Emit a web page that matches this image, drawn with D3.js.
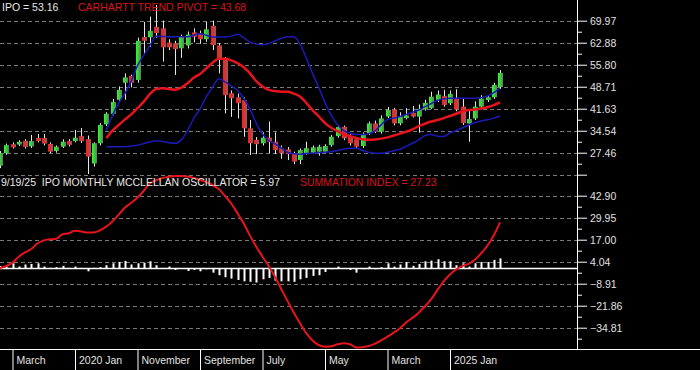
<!DOCTYPE html>
<html>
<head>
<meta charset="utf-8">
<script src="https://cdn.jsdelivr.net/npm/d3@7"></script>
<style>
html, body { margin: 0; padding: 0; background: #000; }
svg { display: block; font-family: "Liberation Sans", Arial, sans-serif; }
</style>
</head>
<body>
<svg id="chart" width="700" height="370"></svg>
<script>
// month index 0 = Jan 2019, last = Sep 2025
const monthTickIdx = [2, 12, 22, 32, 42, 52, 62, 72];
const monthLabels = ["March", "2020 Jan", "November", "September", "July", "May", "March", "2025 Jan"];
const priceTicks = [69.97, 62.88, 55.80, 48.71, 41.63, 34.54, 27.46];
const oscTicks = [42.90, 29.95, 17.00, 4.04, -8.91, -21.86, -34.81];

const open = [23.3, 27.3, 30.2, 30.1, 31.3, 29.5, 32.2, 32.2, 30.3, 28.0,
  29.4, 31.2, 31.2, 32.8, 31.8, 24.0, 30.5, 36.6, 40.0, 44.5,
  50.0, 52.2, 50.9, 64.7, 64.6, 68.0, 67.5, 62.9, 62.7, 61.1,
  62.0, 66.2, 65.8, 64.0, 68.3, 62.0, 57.9, 46.6, 45.3, 44.4,
  35.3, 31.6, 30.5, 32.3, 31.0, 28.9, 28.5, 27.3, 25.1, 27.3,
  27.5, 27.8, 27.8, 29.9, 32.8, 35.8, 32.8, 31.8, 29.6, 33.7,
  36.9, 34.2, 39.1, 41.4, 36.9, 38.6, 40.3, 39.1, 41.4, 41.8,
  44.5, 45.7, 43.4, 45.0, 42.3, 36.9, 38.5, 42.3, 44.4, 45.3, 48.6];
const high = [28.0, 30.4, 30.8, 31.5, 31.8, 33.2, 33.5, 33.5, 30.8, 29.8,
  31.8, 31.8, 34.8, 35.4, 33.0, 30.8, 37.0, 40.5, 44.8, 48.8,
  53.0, 52.6, 64.5, 69.6, 71.3, 75.0, 70.0, 64.0, 63.5, 65.5,
  66.5, 67.5, 66.8, 69.6, 70.0, 62.8, 58.3, 47.5, 46.5, 45.3,
  38.0, 32.5, 34.0, 37.5, 34.0, 29.8, 29.3, 27.8, 28.8, 31.0,
  29.8, 30.0, 30.2, 33.2, 36.3, 36.2, 33.4, 32.5, 34.0, 37.5,
  37.8, 39.5, 42.2, 41.9, 40.5, 41.8, 42.5, 43.0, 44.5, 47.1,
  47.5, 47.7, 47.5, 47.9, 44.8, 41.0, 44.0, 46.0, 45.9, 50.0, 54.1];
const low = [22.5, 26.8, 28.8, 29.6, 28.8, 29.0, 30.8, 29.8, 27.3, 27.5,
  29.0, 29.5, 30.8, 30.6, 20.6, 23.0, 29.8, 36.0, 39.5, 43.8,
  44.5, 48.5, 50.0, 59.5, 61.5, 64.5, 56.8, 60.5, 52.5, 58.0,
  61.0, 63.0, 62.5, 63.2, 60.5, 53.0, 40.1, 39.0, 38.5, 32.6,
  26.7, 27.0, 29.8, 27.3, 27.0, 25.5, 25.1, 23.8, 23.8, 26.8,
  27.0, 26.5, 27.3, 29.4, 32.3, 31.5, 29.8, 28.8, 29.0, 33.2,
  33.8, 33.6, 38.6, 36.3, 36.3, 38.2, 38.8, 33.9, 41.0, 41.5,
  43.8, 42.3, 42.8, 40.8, 36.4, 31.0, 38.0, 41.8, 43.8, 44.8, 48.0];
const close = [27.3, 29.9, 29.2, 31.0, 29.3, 31.2, 31.2, 30.4, 27.8, 29.4,
  31.0, 30.0, 32.3, 31.2, 26.2, 30.5, 36.4, 40.0, 43.8, 47.7,
  51.7, 50.0, 63.5, 63.5, 66.7, 66.0, 61.4, 61.4, 60.8, 64.8,
  65.5, 64.8, 64.0, 67.2, 62.1, 57.9, 46.0, 45.0, 43.4, 35.3,
  30.5, 30.2, 32.3, 31.0, 28.3, 27.3, 27.0, 24.6, 28.3, 28.9,
  29.2, 29.4, 29.6, 32.6, 35.7, 32.1, 30.5, 29.4, 33.2, 36.9,
  34.2, 38.5, 41.2, 36.9, 39.1, 39.5, 39.1, 41.6, 43.5, 45.5,
  46.2, 42.8, 46.4, 41.4, 37.0, 38.3, 42.3, 44.9, 45.3, 49.3, 53.16];

// bands and pivot start at month index 17
const bandStart = 17;
const pivot = [32.1, 34.6, 36.4, 38.2, 39.8, 41.8, 43.9, 46.4, 48.0, 48.2,
  48.0, 47.7, 48.4, 49.8, 51.6, 52.8, 54.6, 56.4, 57.7, 57.7,
  57.2, 56.3, 55.0, 53.0, 50.5, 48.8, 47.7, 47.3, 47.1, 47.1,
  46.5, 45.6, 43.5, 41.2, 39.2, 37.0, 35.5, 34.4, 33.4, 32.8,
  32.2, 31.8, 31.6, 31.7, 32.0, 32.4, 33.0, 33.6, 34.2, 35.0,
  36.0, 36.8, 37.5, 38.0, 38.6, 39.3, 40.0, 40.8, 41.2, 41.4,
  41.7, 42.1, 42.8, 43.68];
const upperBand = [34.5, 39.5, 43.5, 46.6, 50.6, 55.5, 58.8, 62.0, 65.0, 64.9,
  64.8, 64.8, 64.8, 64.8, 65.3, 65.8, 65.3, 64.7, 64.7, 64.7,
  65.0, 65.6, 64.5, 63.0, 62.5, 62.2, 62.6, 63.5, 64.3, 64.8,
  64.8, 62.5, 58.0, 53.0, 48.5, 43.5, 39.5, 36.5, 34.6, 33.8,
  33.3, 33.3, 33.6, 34.5, 36.5, 38.2, 38.6, 39.1, 39.8, 40.5,
  41.2, 42.3, 43.3, 44.3, 44.8, 45.0, 45.0, 45.0, 45.0, 45.0,
  45.2, 45.7, 46.8, 48.2];
const lowerBand = [29.4, 29.4, 29.4, 29.4, 29.6, 29.9, 30.4, 30.9, 31.3, 31.1,
  30.7, 30.5, 31.6, 34.5, 38.5, 41.5, 45.5, 48.5, 51.3, 50.3,
  49.0, 47.5, 45.0, 41.5, 37.0, 33.5, 31.4, 30.3, 29.0, 27.6,
  27.1, 27.0, 27.2, 27.3, 27.5, 27.6, 27.8, 28.2, 28.6, 28.9,
  28.9, 28.2, 27.6, 27.3, 27.3, 27.6, 28.1, 28.6, 29.5, 30.5,
  31.6, 33.0, 33.3, 32.8, 32.7, 33.8, 34.6, 35.5, 36.4, 37.2,
  37.7, 38.1, 38.6, 39.3];

const oscillator = [1.5, 1.6, 3.1, 1.2, 2.4, 2.7, 3.1, 1.2, 0.4, 0.8,
  1.6, 0.4, 1.2, 0.4, -1.6, 0.4, 0.8, 2.0, 3.1, 3.9,
  4.5, 2.4, 3.1, 3.5, 4.3, 2.0, 0.4, 1.2, -0.8, 0.3,
  -1.4, -0.8, -1.6, -0.4, -2.4, -3.9, -5.1, -5.9, -6.7, -7.5,
  -7.8, -8.2, -6.3, -5.5, -7.1, -7.5, -7.5, -7.8, -6.3, -5.5,
  -4.3, -3.9, -2.0, -0.4, 1.2, 0.3, -0.8, -2.4, -0.4, 1.2,
  -0.4, 0.8, 3.1, 1.2, 2.4, 3.9, 1.6, 2.7, 4.3, 4.7,
  5.5, 4.3, 4.3, 2.0, 3.1, 1.2, 3.1, 3.9, 3.9, 5.1, 5.97];
const summation = [0.3, 1.5, 3.5, 7.0, 9.5, 11.5, 14.8, 16.6, 17.2, 17.6,
  20.2, 20.8, 22.2, 21.8, 21.2, 21.3, 22.5, 24.7, 27.8, 31.8,
  35.9, 38.7, 41.8, 45.8, 50.2, 52.0, 53.3, 54.1, 54.5, 54.5,
  54.2, 53.4, 52.3, 50.8, 49.2, 46.8, 42.8, 38.3, 32.5, 26.5,
  19.4, 12.8, 7.0, 1.5, -5.0, -12.0, -19.0, -25.9, -32.2, -38.0,
  -42.3, -45.0, -46.0, -45.7, -44.6, -44.0, -44.5, -46.4, -46.3, -45.6,
  -44.2, -42.3, -40.1, -37.7, -35.1, -31.6, -29.0, -26.0, -22.2, -18.0,
  -12.5, -7.5, -3.5, -0.5, 1.6, 2.8, 5.4, 9.0, 13.6, 19.5, 27.23];

const plotRight = 577;
const svg = d3.select("#chart");

const x = d3.scaleLinear().domain([0, 92.32]).range([0, plotRight]);
const yP = d3.scaleLinear().domain([20.38, 69.97]).range([174.7, 20.7]);
const yO = d3.scaleLinear().domain([-47.76, 42.90]).range([349.7, 195.7]);

svg.append("rect").attr("width", 700).attr("height", 370).attr("fill", "#000");

const defs = svg.append("defs");
defs.append("clipPath").attr("id", "plotClip")
  .append("rect").attr("x", 0).attr("y", 0).attr("width", plotRight).attr("height", 349);
const gUp = defs.append("linearGradient").attr("id", "gUp");
gUp.append("stop").attr("offset", "0%").attr("stop-color", "#2cff2c");
gUp.append("stop").attr("offset", "100%").attr("stop-color", "#5a835a");
const gDn = defs.append("linearGradient").attr("id", "gDn");
gDn.append("stop").attr("offset", "0%").attr("stop-color", "#ff1a1a");
gDn.append("stop").attr("offset", "100%").attr("stop-color", "#9a5a5a");

// dashed gridlines
const gridVals = priceTicks.map(yP).concat([yP(20.38)]).concat(oscTicks.map(yO));
svg.append("g").selectAll("line").data(gridVals).join("line")
  .attr("x1", 0).attr("x2", plotRight)
  .attr("y1", d => Math.round(d) + 0.5).attr("y2", d => Math.round(d) + 0.5)
  .attr("stroke", "#7a7a7a").attr("stroke-width", 1).attr("stroke-dasharray", "4,3");

const plot = svg.append("g").attr("clip-path", "url(#plotClip)");

// candles
const idx = d3.range(open.length);
plot.append("g").selectAll("line").data(idx).join("line")
  .attr("x1", i => Math.round(x(i)) + 0.5).attr("x2", i => Math.round(x(i)) + 0.5)
  .attr("y1", i => yP(high[i])).attr("y2", i => yP(low[i]))
  .attr("stroke", "#e6e6e6").attr("stroke-width", 1);
plot.append("g").selectAll("rect").data(idx).join("rect")
  .attr("x", i => Math.round(x(i)) - 2)
  .attr("width", 5)
  .attr("y", i => yP(Math.max(open[i], close[i])))
  .attr("height", i => Math.max(1.5, Math.abs(yP(open[i]) - yP(close[i]))))
  .attr("fill", i => close[i] >= open[i] ? "url(#gUp)" : "url(#gDn)");

// bands and pivot
const bandLine = d3.line()
  .x((d, k) => x(k + bandStart)).y(d => yP(d))
  .curve(d3.curveMonotoneX);
plot.append("path").datum(upperBand).attr("d", bandLine)
  .attr("fill", "none").attr("stroke", "#1a1ab8").attr("stroke-width", 1.5);
plot.append("path").datum(lowerBand).attr("d", bandLine)
  .attr("fill", "none").attr("stroke", "#1a1ab8").attr("stroke-width", 1.5);
plot.append("path").datum(pivot).attr("d", bandLine)
  .attr("fill", "none").attr("stroke", "#e8141c").attr("stroke-width", 2.5);

// oscillator histogram
plot.append("g").selectAll("rect").data(idx).join("rect")
  .attr("x", i => Math.round(x(i)) - 0.5)
  .attr("width", 2)
  .attr("y", i => Math.min(yO(0), yO(oscillator[i])))
  .attr("height", i => Math.abs(yO(oscillator[i]) - yO(0)))
  .attr("fill", "#ffffff");

plot.append("line")
  .attr("x1", 0).attr("x2", plotRight)
  .attr("y1", yO(0)).attr("y2", yO(0))
  .attr("stroke", "#ffffff").attr("stroke-width", 1.5);

const sumLine = d3.line().x((d, i) => x(i)).y(d => yO(d)).curve(d3.curveMonotoneX);
plot.append("path").datum(summation).attr("d", sumLine)
  .attr("fill", "none").attr("stroke", "#e6141c").attr("stroke-width", 2);

// right axes
svg.append("line").attr("x1", plotRight + 0.5).attr("x2", plotRight + 0.5)
  .attr("y1", 0).attr("y2", 350).attr("stroke", "#fff").attr("stroke-width", 1);

function styleAxis(g) {
  g.select(".domain").remove();
  g.selectAll(".tick line").attr("stroke", "#fff");
  g.selectAll(".tick text").attr("fill", "#e0e0e0").style("font-size", "10.5px")
    .style("font-family", "'Liberation Sans', Arial, sans-serif");
}
const pAll = priceTicks.concat([20.38]);
svg.append("g").attr("transform", `translate(${plotRight},0)`)
  .call(d3.axisRight(yP).tickValues(pAll).tickSize(10).tickPadding(3)
    .tickFormat(d => priceTicks.includes(d) ? d3.format(".2f")(d) : ""))
  .call(styleAxis);
svg.append("g").attr("transform", `translate(${plotRight},0)`)
  .call(d3.axisRight(yP).tickValues(d3.pairs(pAll).map(p => (p[0] + p[1]) / 2)).tickSize(5).tickFormat(""))
  .call(styleAxis);
svg.append("g").attr("transform", `translate(${plotRight},0)`)
  .call(d3.axisRight(yO).tickValues(oscTicks).tickSize(10).tickPadding(3).tickFormat(d3.format(".2f")))
  .call(styleAxis);
svg.append("g").attr("transform", `translate(${plotRight},0)`)
  .call(d3.axisRight(yO).tickValues(d3.pairs(oscTicks.concat([-47.76])).map(p => (p[0] + p[1]) / 2)).tickSize(5).tickFormat(""))
  .call(styleAxis);

// bottom month axis
svg.append("line").attr("x1", 0).attr("x2", 700).attr("y1", 349.5).attr("y2", 349.5)
  .attr("stroke", "#fff").attr("stroke-width", 1.2);
const xAxis = svg.append("g").attr("transform", "translate(0,349.5)")
  .call(d3.axisBottom(x).tickValues(monthTickIdx).tickSize(21)
    .tickFormat((d, k) => monthLabels[k]));
xAxis.select(".domain").remove();
xAxis.selectAll(".tick line").attr("stroke", "#fff");
xAxis.selectAll(".tick text").attr("fill", "#e0e0e0").attr("text-anchor", "start")
  .attr("x", 3.5).attr("y", 7).attr("dy", "0.71em")
  .style("font-size", "10.5px").style("font-family", "'Liberation Sans', Arial, sans-serif");

// titles
const fmt = d3.format(".2f");
const titles = svg.append("g").style("font-size", "10.5px").attr("xml:space", "preserve");
titles.append("text").attr("x", 2).attr("y", 10.5).attr("fill", "#e8e8e8")
  .text(`IPO = ${fmt(close[close.length - 1])}`);
titles.append("text").attr("x", 78).attr("y", 10.5).attr("fill", "#d8141c")
  .text(`CARHARTT TREND PIVOT = ${fmt(pivot[pivot.length - 1])}`);
titles.append("text").attr("x", 1).attr("y", 185.5).attr("fill", "#e8e8e8")
  .style("white-space", "pre")
  .text(`9/19/25  IPO MONTHLY MCCLELLAN OSCILLATOR = ${fmt(oscillator[oscillator.length - 1])}`);
titles.append("text").attr("x", 300).attr("y", 185.5).attr("fill", "#d8141c")
  .text(`SUMMATION INDEX = ${fmt(summation[summation.length - 1])}`);
</script>
</body>
</html>
